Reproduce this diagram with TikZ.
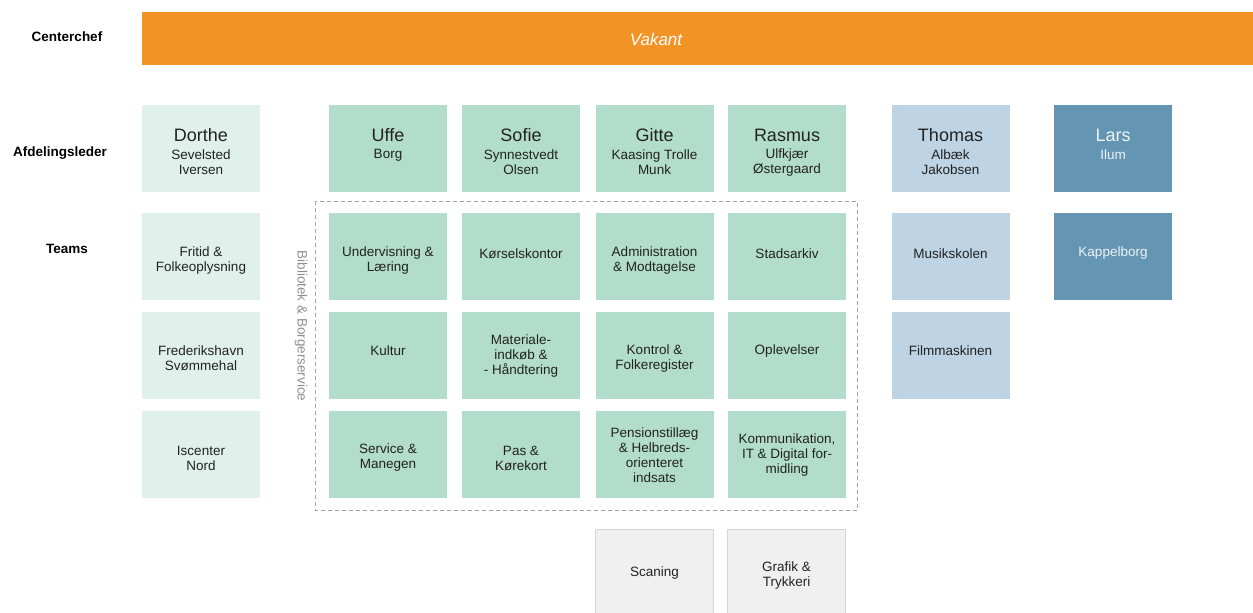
\documentclass[tikz,border=0pt]{standalone}
\usepackage{fontspec}
\setmainfont{Liberation Sans}
\definecolor{orng}{HTML}{F29326}
\definecolor{lgreen}{HTML}{E0F0EA}
\definecolor{mgreen}{HTML}{B2DCCB}
\definecolor{lblue}{HTML}{BED3E3}
\definecolor{dblue}{HTML}{6495B2}
\definecolor{gfill}{HTML}{F0F0F0}
\definecolor{gline}{HTML}{D6D6D6}
\definecolor{txtc}{HTML}{222222}
\definecolor{vgrey}{HTML}{8E8E8E}
\definecolor{wtxt}{HTML}{EEF3F7}
\begin{document}
\begin{tikzpicture}[x=1pt,y=-1pt,
  box/.style={minimum width=118pt,minimum height=87pt,inner sep=0pt,draw=none},
  lgbox/.style={box,fill=lgreen},
  mgbox/.style={box,fill=mgreen},
  lbbox/.style={box,fill=lblue},
  dbbox/.style={box,fill=dblue},
  grbox/.style={box,fill=gfill,draw=gline,line width=1.5pt},
  rowlbl/.style={font=\fontsize{13.5}{15}\selectfont\bfseries,inner sep=0pt,text=black},
  nm/.style={font=\fontsize{18}{20}\selectfont,inner sep=0pt,text=txtc},
  sub/.style={font=\fontsize{13.5}{15}\selectfont,inner sep=0pt,align=center,text=txtc},
  txt/.style={font=\fontsize{13.5}{15}\selectfont,inner sep=0pt,align=center,text=txtc},
  wh/.style={text=wtxt}]
\useasboundingbox (0,0) rectangle (1253,613);
\clip (0,0) rectangle (1253,613);

% row labels
\node[rowlbl] (lcc) at (67,37) {Centerchef};
\node[rowlbl] (lal) at (60,153) {Afdelingsleder};
\node[rowlbl] (lte) at (67,249) {Teams};

% centerchef bar
\node[fill=orng,minimum width=1111pt,minimum height=53pt,inner sep=0pt,anchor=north west] (cc) at (142,12) {};
\node[font=\fontsize{17}{20}\selectfont\itshape,text=white,inner sep=0pt] (cct) at (656,39) {Vakant};

% dashed group
\draw[vgrey!80,dashed,dash pattern=on 4pt off 3pt,line width=0.8pt] (315,201) rectangle (857.5,510);
\node[rotate=-90,font=\fontsize{13.5}{15}\selectfont,text=vgrey,inner sep=0pt] (bib) at (301,326) {Bibliotek \& Borgerservice};

% leaders
\node[lgbox] (dorthe) at (201,148.5) {};
\node[mgbox] (uffe) at (388,148.5) {};
\node[mgbox] (sofie) at (521,148.5) {};
\node[mgbox] (gitte) at (654.5,148.5) {};
\node[mgbox] (rasmus) at (787,148.5) {};
\node[lbbox] (thomas) at (950.5,148.5) {};
\node[dbbox] (lars) at (1113,148.5) {};

\node[nm] (dorthe-n) at (201,135) {Dorthe};
\node[sub] (dorthe-s) at (201,162.5) {Sevelsted\\Iversen};
\node[nm] (uffe-n) at (388,135) {Uffe};
\node[sub] (uffe-s) at (388,155) {Borg};
\node[nm] (sofie-n) at (521,135) {Sofie};
\node[sub] (sofie-s) at (521,162.5) {Synnestvedt\\Olsen};
\node[nm] (gitte-n) at (654.5,135) {Gitte};
\node[sub] (gitte-s) at (654.5,162.5) {Kaasing Trolle\\Munk};
\node[nm] (rasmus-n) at (787,135) {Rasmus};
\node[sub] (rasmus-s) at (787,162.5) {Ulfkjær\\Østergaard};
\node[nm] (thomas-n) at (950.5,135) {Thomas};
\node[sub] (thomas-s) at (950.5,162.5) {Albæk\\Jakobsen};
\node[nm,wh] (lars-n) at (1113,135) {Lars};
\node[sub,wh] (lars-s) at (1113,155) {Ilum};

% team row 1
\node[lgbox] (d1) at (201,256.5) {};
\node[mgbox] (u1) at (388,256.5) {};
\node[mgbox] (s1) at (521,256.5) {};
\node[mgbox] (g1) at (654.5,256.5) {};
\node[mgbox] (r1) at (787,256.5) {};
\node[lbbox] (t1) at (950.5,256.5) {};
\node[dbbox] (l1) at (1113,256.5) {};
\node[txt] (d1t) at (201,260.5) {Fritid \&\\Folkeoplysning};
\node[txt] (u1t) at (388,260.5) {Undervisning \&\\Læring};
\node[txt] (s1t) at (521,253.5) {Kørselskontor};
\node[txt] (g1t) at (654.5,260.5) {Administration\\\& Modtagelse};
\node[txt] (r1t) at (787,253.5) {Stadsarkiv};
\node[txt] (t1t) at (950.5,253.5) {Musikskolen};
\node[txt,wh] (l1t) at (1113,253.5) {Kappelborg};

% team row 2
\node[lgbox] (d2) at (201,355.5) {};
\node[mgbox] (u2) at (388,355.5) {};
\node[mgbox] (s2) at (521,355.5) {};
\node[mgbox] (g2) at (654.5,355.5) {};
\node[mgbox] (r2) at (787,355.5) {};
\node[lbbox] (t2) at (950.5,355.5) {};
\node[txt] (d2t) at (201,358) {Frederikshavn\\Svømmehal};
\node[txt] (u2t) at (388,351) {Kultur};
\node[txt] (s2t) at (521,356.5) {Materiale-\\indkøb \&\\- Håndtering};
\node[txt] (g2t) at (654.5,358.5) {Kontrol \&\\Folkeregister};
\node[txt] (r2t) at (787,351) {Oplevelser};
\node[txt] (t2t) at (950.5,351) {Filmmaskinen};

% team row 3
\node[lgbox] (d3) at (201,454.5) {};
\node[mgbox] (u3) at (388,454.5) {};
\node[mgbox] (s3) at (521,454.5) {};
\node[mgbox] (g3) at (654.5,454.5) {};
\node[mgbox] (r3) at (787,454.5) {};
\node[txt] (d3t) at (201,458) {Iscenter\\Nord};
\node[txt] (u3t) at (388,458) {Service \&\\Manegen};
\node[txt] (s3t) at (521,458.5) {Pas \&\\Kørekort};
\node[txt] (g3t) at (654.5,455) {Pensionstillæg\\\& Helbreds-\\orienteret\\indsats};
\node[txt] (r3t) at (787,455) {Kommunikation,\\IT \& Digital for-\\midling};

% grey row
\node[grbox] (g4) at (654.5,573) {};
\node[grbox] (r4) at (786.5,573) {};
\node[txt] (g4t) at (654.5,573.5) {Scaning};
\node[txt] (r4t) at (786.5,576) {Grafik \&\\Trykkeri};
\end{tikzpicture}
\end{document}
